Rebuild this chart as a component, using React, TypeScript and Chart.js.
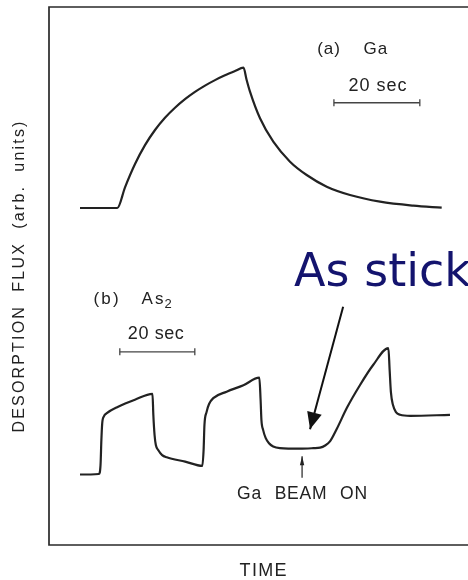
import { useEffect, useRef } from 'react';
import { Chart, registerables } from 'chart.js';

Chart.register(...registerables);

// ---- data (time and flux in arbitrary units) ----
const gaTime = [7.40, 16.30, 18.14, 20.53, 22.91, 25.30, 27.68, 30.07, 32.46, 34.84, 37.23, 39.62, 42.00, 44.39, 46.42,
  47.14, 47.97, 50.36, 53.53, 57.52, 61.50, 66.28, 71.84, 79.00, 86.95, 93.72];
const gaFlux = [62.64, 62.64, 66.49, 70.82, 74.33, 77.14, 79.42, 81.28, 82.87, 84.22, 85.39, 86.41, 87.30, 88.09, 88.72,
  86.52, 84.26, 79.31, 74.96, 71.25, 68.77, 66.60, 65.06, 63.81, 63.07, 62.70];

const as2Time = [7.4, 11.9, 12.3, 12.5, 12.7, 13.1, 13.8, 16.5, 20.5, 24.7, 24.9, 25.2, 25.5, 26.1, 27.0, 28.1, 32.5,
  36.6, 36.9, 37.1, 37.6, 38.2, 39.2, 42.4, 46.4, 50.2, 50.5, 50.7, 51.1, 51.7, 52.5, 53.5, 55.1, 59.9, 63.1, 64.7,
  65.9, 67.1, 68.7, 71.1, 74.2, 77.4, 81.0, 81.3, 81.6, 82.1, 82.8, 83.8, 86.2, 95.7];
const as2Flux = [13.1, 13.2, 14.9, 19.5, 22.6, 23.9, 24.5, 25.7, 27.0, 28.1, 24.2, 20.4, 18.6, 17.6, 16.7, 16.3, 15.5,
  14.7, 17.7, 22.3, 24.7, 26.2, 27.3, 28.5, 29.7, 31.1, 27.0, 23.2, 21.4, 19.9, 18.9, 18.3, 18.0, 17.9, 18.0, 18.1,
  18.5, 19.3, 21.6, 25.5, 29.7, 33.5, 36.6, 32.5, 28.4, 26.0, 24.7, 24.2, 24.0, 24.2];

const scaleBarATime = [68.0, 88.5];
const scaleBarAFlux = [82.2, 82.2];
const scaleBarBTime = [16.9, 34.8];
const scaleBarBFlux = [35.9, 35.9];

const bigArrowTime = [70.2, 62.3];
const bigArrowFlux = [44.3, 21.5];
const beamArrowTime = [60.4, 60.4];
const beamArrowFlux = [12.5, 16.5];

const axisTitleX = 'TIME';
const axisTitleY = 'DESORPTION  FLUX  (arb.  units)';
const labelA = '(a) Ga';
const labelB = '(b) As';
const labelBSub = '2';
const scaleLabel = '20 sec';
const beamLabel = 'Ga BEAM ON';
const noteLabel = 'As stick';

const INK = '#222222';
const FONT = '"Liberation Sans", Arial, sans-serif';

// letter-spaced text fitted to a width
function drawSpaced(ctx: CanvasRenderingContext2D, text: string, x: number, y: number, width: number, font: string, align: 'left' | 'center') {
  ctx.font = font;
  (ctx as any).letterSpacing = '0px';
  const n = Array.from(text).length;
  const w0 = ctx.measureText(text).width;
  const ls = width > 0 && n > 1 ? (width - w0) / (n - 1) : 0;
  (ctx as any).letterSpacing = `${ls}px`;
  const w = w0 + ls * (n - 1);
  const x0 = align === 'center' ? x - w / 2 : x;
  ctx.textAlign = 'left';
  ctx.textBaseline = 'middle';
  ctx.fillText(text, x0, y);
  (ctx as any).letterSpacing = '0px';
  return x0 + w;
}

// words with a fixed letter spacing, word gaps stretched to fit a width
function drawWords(ctx: CanvasRenderingContext2D, text: string, x: number, y: number, width: number, font: string, align: 'left' | 'center', ls: number) {
  ctx.font = font;
  (ctx as any).letterSpacing = `${ls}px`;
  const words = text.split(' ');
  const widths = words.map((w) => ctx.measureText(w).width - ls);
  const total = widths.reduce((a, b) => a + b, 0);
  const gap = words.length > 1 ? (width - total) / (words.length - 1) : 0;
  let cx = align === 'center' ? x - width / 2 : x;
  ctx.textAlign = 'left';
  ctx.textBaseline = 'middle';
  words.forEach((w, i) => {
    ctx.fillText(w, cx, y);
    cx += widths[i] + (i < words.length - 1 ? gap : 0);
  });
  (ctx as any).letterSpacing = '0px';
  return cx;
}

function arrowHead(ctx: CanvasRenderingContext2D, x0: number, y0: number, x1: number, y1: number, len: number, half: number) {
  const dx = x1 - x0, dy = y1 - y0;
  const d = Math.hypot(dx, dy);
  const ux = dx / d, uy = dy / d;
  const bx = x1 - ux * len, by = y1 - uy * len;
  ctx.beginPath();
  ctx.moveTo(x1, y1);
  ctx.lineTo(bx - uy * half, by + ux * half);
  ctx.lineTo(bx + uy * half, by - ux * half);
  ctx.closePath();
  ctx.fill();
}

const overlay = {
  id: 'overlay',
  beforeDatasetsDraw(chart: any) {
    const { ctx, chartArea } = chart;
    ctx.save();
    ctx.strokeStyle = '#2a2a2a';
    ctx.lineWidth = 1.7;
    ctx.beginPath();
    ctx.moveTo(chartArea.right, chartArea.top);
    ctx.lineTo(chartArea.left, chartArea.top);
    ctx.lineTo(chartArea.left, chartArea.bottom);
    ctx.lineTo(chartArea.right, chartArea.bottom);
    ctx.stroke();
    ctx.restore();
  },
  afterDatasetsDraw(chart: any) {
    const { ctx, chartArea, scales } = chart;
    const px = (v: number) => scales.x.getPixelForValue(v);
    const py = (v: number) => scales.y.getPixelForValue(v);
    ctx.save();
    ctx.fillStyle = '#111';
    arrowHead(ctx, px(bigArrowTime[0]), py(bigArrowFlux[0]), px(bigArrowTime[1]), py(bigArrowFlux[1]), 17, 7.5);
    ctx.fillStyle = INK;
    arrowHead(ctx, px(beamArrowTime[0]), py(beamArrowFlux[0]), px(beamArrowTime[1]), py(beamArrowFlux[1]), 9, 2.2);

    ctx.fillStyle = INK;
    // panel labels
    drawWords(ctx, labelA, px(64.0), py(92.1), 70, `17px ${FONT}`, 'left', 1);
    drawSpaced(ctx, scaleLabel, px(78.4), py(85.4), 58, `18px ${FONT}`, 'center');
    const end = drawWords(ctx, labelB, px(10.6), py(45.7), 70, `17px ${FONT}`, 'left', 2.2);
    ctx.font = `13px ${FONT}`;
    ctx.textBaseline = 'middle';
    ctx.fillText(labelBSub, end + 1, py(45.7) + 5);
    drawSpaced(ctx, scaleLabel, px(25.5), py(39.2), 56, `18px ${FONT}`, 'center');
    drawWords(ctx, beamLabel, px(60.4), py(9.5), 130, `17.5px ${FONT}`, 'center', 0.8);

    // axis titles
    drawSpaced(ctx, axisTitleX, px(51.1), chartArea.bottom + 26, 47, `18px ${FONT}`, 'center');
    ctx.save();
    ctx.translate(20, py(49.8));
    ctx.rotate(-Math.PI / 2);
    drawSpaced(ctx, axisTitleY, 0, 0, 311, `16px ${FONT}`, 'center');
    ctx.restore();

    // annotation
    ctx.fillStyle = '#14146e';
    ctx.font = `46px "DejaVu Sans", sans-serif`;
    ctx.textAlign = 'left';
    ctx.textBaseline = 'alphabetic';
    ctx.fillText(noteLabel, px(58.5), py(48.1));
    ctx.restore();
  },
};

const zip = (xs: number[], ys: number[]) => xs.map((x, i) => ({ x, y: ys[i] }));

export default function App() {
  const ref = useRef<HTMLCanvasElement>(null);
  useEffect(() => {
    if (!ref.current) return;
    const curve = {
      borderColor: INK,
      borderWidth: 2.2,
      pointRadius: 0,
      cubicInterpolationMode: 'monotone' as const,
      fill: false,
    };
    const bar = {
      borderColor: '#444',
      borderWidth: 1.3,
      pointStyle: 'line' as const,
      rotation: 90,
      pointRadius: 3.5,
      pointBorderWidth: 1.3,
      pointBorderColor: '#444',
      fill: false,
    };
    const chart = new Chart(ref.current, {
      type: 'line',
      data: {
        datasets: [
          { label: 'Ga', data: zip(gaTime, gaFlux), ...curve },
          { label: 'As2', data: zip(as2Time, as2Flux), ...curve },
          { label: 'bar a', data: zip(scaleBarATime, scaleBarAFlux), ...bar },
          { label: 'bar b', data: zip(scaleBarBTime, scaleBarBFlux), ...bar },
          { label: 'arrow', data: zip(bigArrowTime, bigArrowFlux), borderColor: '#111', borderWidth: 2, pointRadius: 0 },
          { label: 'beam', data: zip(beamArrowTime, beamArrowFlux), borderColor: INK, borderWidth: 1.2, pointRadius: 0 },
        ],
      },
      options: {
        responsive: false,
        animation: false,
        layout: { autoPadding: false, padding: { left: 49, top: 7, right: 0, bottom: 35 } },
        plugins: { legend: { display: false }, tooltip: { enabled: false } },
        events: [],
        scales: {
          x: { type: 'linear', min: 0, max: 100, display: false },
          y: { type: 'linear', min: 0, max: 100, display: false },
        },
      },
      plugins: [overlay],
    });
    return () => chart.destroy();
  }, []);
  return (
    <div style={{ position: 'absolute', left: 0, top: 0, width: 468, height: 580, background: '#fff' }}>
      <canvas ref={ref} width={468} height={580} style={{ display: 'block' }} />
    </div>
  );
}
